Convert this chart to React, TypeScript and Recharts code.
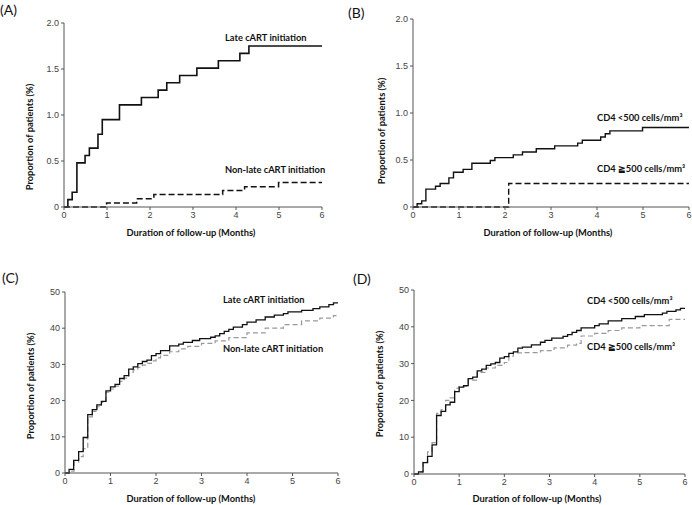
import React from "react";
import { LineChart, Line, XAxis, YAxis } from "recharts";

// months since cART start / cumulative proportion (%)
const xTicks = [0, 1, 2, 3, 4, 5, 6];
const yTicksSmall = [0, 0.5, 1, 1.5, 2];
const yTicksLarge = [0, 10, 20, 30, 40, 50];

// (A) late vs non-late initiation
const aLateMonths = [0, 0.09, 0.19, 0.3, 0.49, 0.59, 0.79, 0.89, 1.29, 1.8, 2.19, 2.39, 2.69, 3.09, 3.59, 4.09, 4.3, 6];
const aLatePct = [0, 0.08, 0.16, 0.48, 0.56, 0.64, 0.79, 0.95, 1.11, 1.19, 1.27, 1.35, 1.43, 1.51, 1.59, 1.67, 1.75, 1.75];
const aNonLateMonths = [0, 0.99, 1.69, 2.09, 3.69, 4.2, 4.99, 6];
const aNonLatePct = [0, 0.044, 0.09, 0.135, 0.18, 0.22, 0.265, 0.265];

// (B) CD4 strata
const bLowMonths = [0, 0.09, 0.19, 0.28, 0.49, 0.59, 0.78, 0.88, 1.09, 1.28, 1.68, 1.78, 2.18, 2.38, 2.68, 3.08, 3.58, 3.68, 4.08, 4.18, 4.28, 4.99, 6];
const bLowPct = [0, 0.035, 0.065, 0.19, 0.22, 0.25, 0.31, 0.37, 0.4, 0.465, 0.495, 0.525, 0.555, 0.585, 0.62, 0.65, 0.68, 0.71, 0.745, 0.78, 0.81, 0.845, 0.845];
const bHighMonths = [0, 2.08, 6];
const bHighPct = [0, 0.25, 0.25];

// (C) late vs non-late initiation
const cLateMonths = [0, 0.09, 0.19, 0.3, 0.4, 0.5, 0.6, 0.7, 0.8, 0.9, 1.0, 1.1, 1.2, 1.3, 1.4, 1.5, 1.6, 1.7, 1.8, 1.9, 2.0, 2.1, 2.3, 2.5, 2.6, 2.8, 2.96, 3.2, 3.3, 3.4, 3.5, 3.6, 3.7, 3.9, 4.0, 4.2, 4.4, 4.6, 4.8, 4.9, 5.2, 5.45, 5.6, 5.8, 5.9, 6];
const cLatePct = [0, 1.0, 3.5, 5.9, 9.8, 16.1, 17.5, 18.8, 19.8, 22.7, 23.8, 24.5, 26.1, 26.9, 28.7, 29.3, 30.2, 30.8, 31.2, 32.4, 33.0, 33.8, 35.1, 35.6, 36.1, 36.6, 37.1, 37.5, 37.9, 38.5, 39.1, 39.7, 40.3, 41.0, 41.7, 42.3, 43.1, 43.6, 44.0, 44.5, 44.9, 45.4, 45.9, 46.5, 47.0, 47.0];
const cNonLateMonths = [0, 0.1, 0.2, 0.3, 0.4, 0.5, 0.6, 0.7, 0.8, 0.9, 1.0, 1.1, 1.2, 1.3, 1.4, 1.5, 1.6, 1.7, 1.8, 1.9, 2.0, 2.1, 2.3, 2.5, 2.7, 3.0, 3.3, 3.6, 4.0, 4.4, 4.8, 5.2, 5.6, 5.9, 6];
const cNonLatePct = [0, 0.5, 3.0, 4.5, 6.7, 15.5, 17.0, 18.3, 19.5, 22.3, 23.2, 24.0, 25.3, 26.2, 27.8, 28.5, 29.2, 29.8, 30.3, 31.0, 31.8, 32.5, 33.5, 34.3, 35.0, 35.8, 36.5, 37.4, 38.7, 40.0, 41.0, 42.0, 42.8, 43.5, 43.5];

// (D) CD4 strata
const dLowMonths = [0, 0.1, 0.2, 0.3, 0.4, 0.5, 0.6, 0.7, 0.8, 0.9, 1.0, 1.1, 1.2, 1.3, 1.4, 1.5, 1.6, 1.7, 1.8, 1.9, 2.0, 2.1, 2.2, 2.3, 2.4, 2.6, 2.8, 2.9, 3.05, 3.3, 3.4, 3.5, 3.6, 3.7, 4.0, 4.1, 4.3, 4.6, 4.9, 5.1, 5.5, 5.6, 5.8, 5.9, 6];
const dLowPct = [0, 0.6, 3.1, 4.8, 7.9, 15.9, 17.0, 18.8, 19.5, 22.4, 23.6, 24.0, 25.9, 26.3, 28.0, 28.5, 29.5, 29.9, 30.3, 31.5, 31.9, 32.8, 33.2, 34.2, 34.5, 35.1, 35.8, 36.3, 36.9, 37.4, 37.9, 38.5, 39.0, 39.7, 40.3, 40.8, 41.6, 42.2, 42.8, 43.3, 43.7, 44.2, 44.6, 45.0, 45.0];
const dHighMonths = [0, 0.1, 0.2, 0.3, 0.4, 0.5, 0.6, 0.7, 0.8, 0.9, 1.0, 1.2, 1.4, 1.6, 1.8, 2.0, 2.1, 2.2, 2.4, 2.8, 3.1, 3.4, 3.6, 3.7, 4.0, 4.3, 4.6, 5.0, 5.65, 6];
const dHighPct = [0, 0.5, 3.2, 6.0, 8.5, 16.5, 17.5, 20.0, 20.7, 23.3, 23.8, 25.5, 27.6, 28.8, 29.5, 30.3, 32.0, 32.9, 33.0, 33.5, 34.3, 35.0, 35.5, 37.5, 38.2, 39.0, 39.7, 40.3, 42.0, 42.2];

const toPoints = (months: number[], pct: number[]) => months.map((t, i) => ({ t, p: pct[i] }));

const Y_W = 30;
const X_H = 20;
const labelFont = "Lato, 'Liberation Sans', sans-serif";
const tickFont = "'Liberation Sans', Arial, sans-serif";

type Series = { data: { t: number; p: number }[]; stroke: string; dash?: string; width: number };

const Panel = ({ box, plot, yMax, yTicks, yFmt, series }: any) => {
  const margin = {
    left: plot.l - box.left - Y_W,
    top: plot.t - box.top,
    right: box.left + box.width - plot.r,
    bottom: box.top + box.height - plot.b - X_H,
  };
  const tick = { fontSize: 9, fill: "#444", fontFamily: tickFont };
  return (
    <div style={{ position: "absolute", left: box.left, top: box.top }}>
      <LineChart width={box.width} height={box.height} margin={margin}>
        <XAxis
          type="number"
          dataKey="t"
          domain={[0, 6]}
          ticks={xTicks}
          allowDataOverflow
          height={X_H}
          tickSize={3}
          tick={tick}
          stroke="#555"
        />
        <YAxis
          type="number"
          domain={[0, yMax]}
          ticks={yTicks}
          width={Y_W}
          tickSize={3}
          tick={tick}
          tickFormatter={yFmt}
          stroke="#555"
        />
        {series.map((s: Series, i: number) => (
          <Line
            key={i}
            data={s.data}
            dataKey="p"
            type="stepAfter"
            stroke={s.stroke}
            strokeWidth={s.width}
            strokeDasharray={s.dash}
            dot={false}
            activeDot={false}
            isAnimationActive={false}
          />
        ))}
      </LineChart>
    </div>
  );
};

const fmtSmall = (v: number) => (v === 0 ? "0" : v.toFixed(1));
const fmtLarge = (v: number) => String(v);

const T = ({ x, y, children, size = 9.3, anchor = "start", rotate = false, weight = 700 }: any) => (
  <text
    x={x}
    y={y}
    fontSize={size}
    fontWeight={weight}
    fontFamily={labelFont}
    fill="#111"
    textAnchor={anchor}
    dominantBaseline="central"
    transform={rotate ? `rotate(-90 ${x} ${y})` : undefined}
  >
    {children}
  </text>
);

export default function App() {
  return (
    <div style={{ position: "absolute", left: 0, top: 0, width: 692, height: 505, background: "#fff" }}>
      <Panel
        box={{ left: 0, top: 0, width: 346, height: 250 }}
        plot={{ l: 64, r: 322, t: 23, b: 207 }}
        yMax={2}
        yTicks={yTicksSmall}
        yFmt={fmtSmall}
        series={[
          { data: toPoints(aNonLateMonths, aNonLatePct), stroke: "#111", dash: "6 3", width: 1.5 },
          { data: toPoints(aLateMonths, aLatePct), stroke: "#111", width: 1.6 },
        ]}
      />
      <Panel
        box={{ left: 346, top: 0, width: 346, height: 250 }}
        plot={{ l: 413, r: 689, t: 19, b: 207 }}
        yMax={2}
        yTicks={yTicksSmall}
        yFmt={fmtSmall}
        series={[
          { data: toPoints(bHighMonths, bHighPct), stroke: "#111", dash: "6 3", width: 1.4 },
          { data: toPoints(bLowMonths, bLowPct), stroke: "#111", width: 1.4 },
        ]}
      />
      <Panel
        box={{ left: 0, top: 250, width: 346, height: 255 }}
        plot={{ l: 65, r: 338, t: 292, b: 473 }}
        yMax={50}
        yTicks={yTicksLarge}
        yFmt={fmtLarge}
        series={[
          { data: toPoints(cNonLateMonths, cNonLatePct), stroke: "#999", dash: "5 3", width: 1.2 },
          { data: toPoints(cLateMonths, cLatePct), stroke: "#111", width: 1.3 },
        ]}
      />
      <Panel
        box={{ left: 346, top: 250, width: 346, height: 255 }}
        plot={{ l: 414, r: 685, t: 290, b: 474 }}
        yMax={50}
        yTicks={yTicksLarge}
        yFmt={fmtLarge}
        series={[
          { data: toPoints(dHighMonths, dHighPct), stroke: "#999", dash: "5 3", width: 1.2 },
          { data: toPoints(dLowMonths, dLowPct), stroke: "#111", width: 1.3 },
        ]}
      />
      <svg width={692} height={505} style={{ position: "absolute", left: 0, top: 0, pointerEvents: "none" }}>
        <T x={0} y={9} size={14} weight={400}>(A)</T>
        <T x={348} y={12} size={14} weight={400}>(B)</T>
        <T x={2} y={277} size={14} weight={400}>(C)</T>
        <T x={353} y={278} size={14} weight={400}>(D)</T>

        <T x={225} y={37}>Late cART initiation</T>
        <T x={225} y={169}>Non-late cART initiation</T>
        <T x={597} y={117}>CD4 &lt;500 cells/mm³</T>
        <T x={597} y={168}>CD4 ≧500 cells/mm³</T>
        <T x={223} y={299}>Late cART initiation</T>
        <T x={223} y={348}>Non-late cART initiation</T>
        <T x={587} y={300}>CD4 &lt;500 cells/mm³</T>
        <T x={587} y={346}>CD4 ≧500 cells/mm³</T>

        <T x={191} y={232} anchor="middle">Duration of follow-up (Months)</T>
        <T x={548} y={232} anchor="middle">Duration of follow-up (Months)</T>
        <T x={191} y={498} anchor="middle">Duration of follow-up (Months)</T>
        <T x={537} y={498} anchor="middle">Duration of follow-up (Months)</T>

        <T x={29} y={137} anchor="middle" rotate>Proportion of patients (%)</T>
        <T x={381} y={131} anchor="middle" rotate>Proportion of patients (%)</T>
        <T x={30} y={386} anchor="middle" rotate>Proportion of patients (%)</T>
        <T x={379} y={384} anchor="middle" rotate>Proportion of patients (%)</T>
      </svg>
    </div>
  );
}
